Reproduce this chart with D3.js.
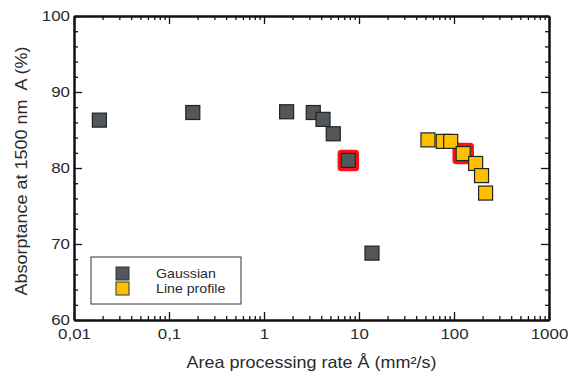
<!DOCTYPE html>
<html>
<head>
<meta charset="utf-8">
<script src="https://cdn.jsdelivr.net/npm/d3@7"></script>
<style>
  body { margin: 0; background: #fff; }
  text { font-family: "Liberation Sans", Arial, sans-serif; fill: #2a2a2a; }
</style>
</head>
<body>
<script>
'use strict';

// data
const gaussianRate = [0.0185, 0.178, 1.73, 3.3, 4.18, 5.36, 7.72, 13.7];
const gaussianAbs  = [86.3, 87.3, 87.4, 87.3, 86.4, 84.5, 81.0, 68.8];
const gaussianMark = [false, false, false, false, false, false, true, false];

const lineRate = [53.2, 77, 92.3, 125, 169, 195, 215];
const lineAbs  = [83.7, 83.5, 83.5, 81.9, 80.6, 79.0, 76.7];
const lineMark = [false, false, false, true, false, false, false];

const xTicks = [0.01, 0.1, 1, 10, 100, 1000];
const xTickLabels = ["0,01", "0,1", "1", "10", "100", "1000"];
const yTicks = [60, 70, 80, 90, 100];
const seriesNames = ["Gaussian", "Line profile"];

let width = 571;
let height = 376;
let margin = {left: 74, right: 22, top: 16, bottom: 56};
let stretch = 1.09; // reference glyphs are a bit wider than Liberation Sans

let svg = d3.select('body').append('svg')
  .attr('width', width)
  .attr('height', height);

let xScale = d3.scaleLog()
  .domain([0.01, 1000])
  .range([margin.left, width - margin.right]);
let yScale = d3.scaleLinear()
  .domain([60, 100])
  .range([height - margin.bottom, margin.top]);

let x0 = margin.left, x1 = width - margin.right;
let y0 = height - margin.bottom, y1 = margin.top;

// minor ticks
let xMinor = xScale.ticks().filter(v => !xTicks.some(t => Math.abs(t - v) / t < 1e-6));
let yMinor = d3.range(62, 100, 2).filter(v => v % 10 !== 0);

function styleAxis(g) {
  g.select('.domain').attr('stroke', '#111').attr('stroke-width', 2);
  g.selectAll('.tick line').attr('stroke', '#111').attr('stroke-width', 1.3);
  g.selectAll('text').style('font-size', '15.5px').attr('fill', '#2a2a2a')
    .style('font-family', '"Liberation Sans", Arial, sans-serif');
}

// bottom
svg.append('g').attr('transform', 'translate(0,' + y0 + ')')
  .call(d3.axisBottom(xScale).tickValues(xTicks)
    .tickFormat((d, i) => xTickLabels[i]).tickSizeInner(-8).tickSizeOuter(0).tickPadding(8))
  .call(styleAxis);
svg.append('g').attr('transform', 'translate(0,' + y0 + ')')
  .call(d3.axisBottom(xScale).tickValues(xMinor).tickFormat('').tickSizeInner(-4).tickSizeOuter(0))
  .call(styleAxis);
// top
svg.append('g').attr('transform', 'translate(0,' + y1 + ')')
  .call(d3.axisTop(xScale).tickValues(xTicks).tickFormat('').tickSizeInner(-8).tickSizeOuter(0))
  .call(styleAxis);
svg.append('g').attr('transform', 'translate(0,' + y1 + ')')
  .call(d3.axisTop(xScale).tickValues(xMinor).tickFormat('').tickSizeInner(-4).tickSizeOuter(0))
  .call(styleAxis);
// left
svg.append('g').attr('transform', 'translate(' + x0 + ',0)')
  .call(d3.axisLeft(yScale).tickValues(yTicks).tickSizeInner(-8).tickSizeOuter(0).tickPadding(4))
  .call(styleAxis);
svg.append('g').attr('transform', 'translate(' + x0 + ',0)')
  .call(d3.axisLeft(yScale).tickValues(yMinor).tickFormat('').tickSizeInner(-4).tickSizeOuter(0))
  .call(styleAxis);
// right
svg.append('g').attr('transform', 'translate(' + x1 + ',0)')
  .call(d3.axisRight(yScale).tickValues(yTicks).tickFormat('').tickSizeInner(-8).tickSizeOuter(0))
  .call(styleAxis);
svg.append('g').attr('transform', 'translate(' + x1 + ',0)')
  .call(d3.axisRight(yScale).tickValues(yMinor).tickFormat('').tickSizeInner(-4).tickSizeOuter(0))
  .call(styleAxis);

// axis titles
svg.append('text')
  .attr('x', (x0 + x1) / 2)
  .attr('y', 368)
  .attr('text-anchor', 'middle')
  .style('font-size', '16.5px')
  .text('Area processing rate \u00C5 (mm\u00B2/s)');

svg.append('text')
  .attr('transform', 'translate(27,' + ((y0 + y1) / 2 + 3) + ')rotate(-90)')
  .attr('text-anchor', 'middle')
  .style('font-size', '16.5px')
  .text('Absorptance at 1500 nm\u00A0 A (%)');

// points
let size = 14;
function plotSeries(rates, abs, marks, fill) {
  let pts = rates.map((r, i) => ({x: r, y: abs[i], mark: marks[i]}));
  svg.append('g').selectAll('rect.hl')
    .data(pts.filter(d => d.mark))
    .enter().append('rect')
    .attr('x', d => xScale(d.x) - size / 2 - 2)
    .attr('y', d => yScale(d.y) - size / 2 - 2)
    .attr('width', size + 4)
    .attr('height', size + 4)
    .attr('rx', 2)
    .attr('fill', 'none')
    .attr('stroke', '#ff1010')
    .attr('stroke-width', 3.5);
  svg.append('g').selectAll('rect.pt')
    .data(pts)
    .enter().append('rect')
    .attr('x', d => xScale(d.x) - size / 2)
    .attr('y', d => yScale(d.y) - size / 2)
    .attr('width', size)
    .attr('height', size)
    .attr('fill', fill)
    .attr('stroke', '#222')
    .attr('stroke-width', 1.2);
}
plotSeries(gaussianRate, gaussianAbs, gaussianMark, '#52575c');
plotSeries(lineRate, lineAbs, lineMark, '#ffc000');

// legend
let legend = svg.append('g');
legend.append('rect')
  .attr('x', 91).attr('y', 257)
  .attr('width', 150).attr('height', 47)
  .attr('fill', '#fff')
  .attr('stroke', '#333')
  .attr('stroke-width', 1);
[['#52575c', 0], ['#ffc000', 1]].forEach(function(s) {
  legend.append('rect')
    .attr('x', 116).attr('y', 267 + s[1] * 15)
    .attr('width', 13).attr('height', 13)
    .attr('fill', s[0])
    .attr('stroke', '#333')
    .attr('stroke-width', 1);
  legend.append('text')
    .attr('x', 156).attr('y', 278 + s[1] * 15)
    .style('font-size', '13px')
    .text(seriesNames[s[1]]);
});

// widen the glyphs a little to match the reference lettering
svg.selectAll('text').each(function() {
  let len = this.getComputedTextLength();
  if (len > 0) {
    d3.select(this).attr('textLength', len * stretch).attr('lengthAdjust', 'spacingAndGlyphs');
  }
});
</script>
</body>
</html>
